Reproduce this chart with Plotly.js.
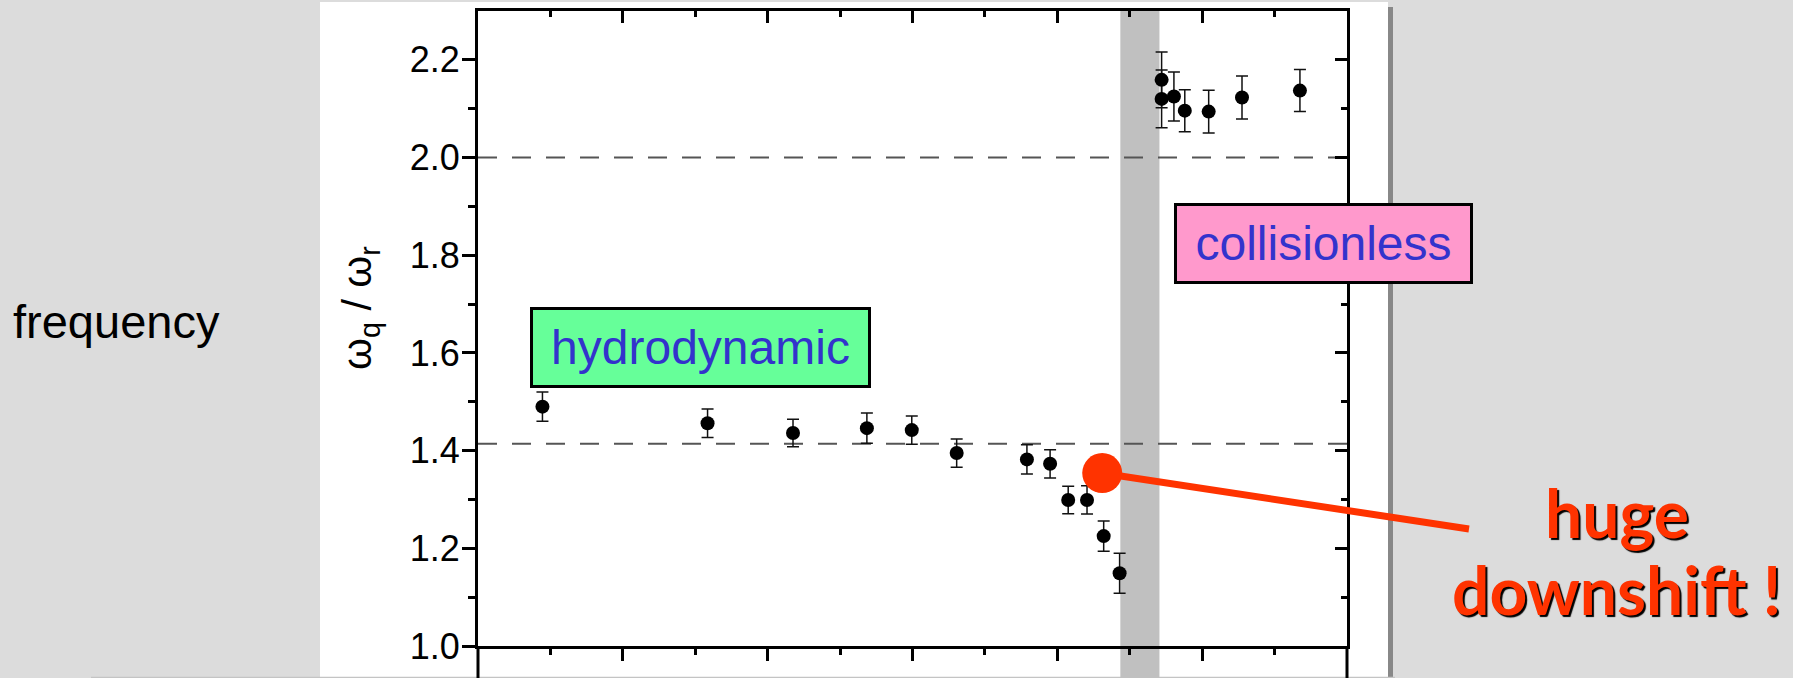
<!DOCTYPE html>
<html>
<head>
<meta charset="utf-8">
<script src="https://cdn.plot.ly/plotly-3.0.1.min.js"></script>
<style>
  html, body { margin: 0; padding: 0; background: #dcdcdc; }
  #chart { width: 1793px; height: 678px; }
</style>
</head>
<body>
<div id="chart"></div>
<script>
// ---- data (x in arbitrary tick units, axis spans 0..12) ----
const xVals = [0.89, 3.17, 4.35, 5.37, 5.99, 6.61, 7.58, 7.90, 8.15, 8.41, 8.64, 8.86,
               9.44, 9.44, 9.61, 9.76, 10.09, 10.55, 11.35];
const yVals = [1.490, 1.456, 1.436, 1.446, 1.442, 1.395, 1.382, 1.373, 1.299, 1.299, 1.225, 1.149,
               2.159, 2.120, 2.125, 2.096, 2.094, 2.123, 2.137];
const errVals = [0.030, 0.029, 0.028, 0.031, 0.029, 0.029, 0.030, 0.029, 0.028, 0.029, 0.031, 0.041,
                 0.057, 0.059, 0.050, 0.043, 0.044, 0.044, 0.043];

const yTickVals = [1.0, 1.2, 1.4, 1.6, 1.8, 2.0, 2.2];
const yTickText = ["1.0", "1.2", "1.4", "1.6", "1.8", "2.0", "2.2"];
const yMinorVals = [1.1, 1.3, 1.5, 1.7, 1.9, 2.1];
const xMajorVals = [2, 4, 6, 8, 10];
const xMinorVals = [1, 3, 5, 7, 9, 11];

const refLevels = [2.0, Math.SQRT2];     // dashed reference lines
const bandRange = [8.87, 9.41];          // grey transition band
const markerPoint = {x: 8.62, y: 1.354}; // big red dot

const xRange = [0, 12];
const yRange = [1.0, 2.3];

const AX = "Liberation Sans, Arial, sans-serif";

const traces = [
  {
    type: "scatter", mode: "markers",
    x: xVals, y: yVals,
    error_y: {type: "data", array: errVals, visible: true, color: "#111", thickness: 1.5, width: 6},
    marker: {color: "#000", size: 14},
    hoverinfo: "x+y"
  },
  { type: "scatter", mode: "markers", x: [], y: [], xaxis: "x2", yaxis: "y2", showlegend: false }
];

const axBase = {
  showline: true, linecolor: "#000", linewidth: 3,
  showgrid: false, zeroline: false, tickcolor: "#000", tickwidth: 3
};

const shapes = [
  // white slide panel
  {type: "rect", xref: "paper", yref: "paper", layer: "below",
   x0: (320 - 478) / 869, x1: (1388 - 478) / 869, y0: -0.06, y1: (646 - 2) / 635,
   fillcolor: "#ffffff", line: {width: 0}},
  // grey edge strip of the panel
  {type: "rect", xref: "paper", yref: "paper", layer: "below",
   x0: (1388 - 478) / 869, x1: (1393 - 478) / 869, y0: -0.06, y1: (646 - 7) / 635,
   fillcolor: "#888888", line: {width: 0}},
  // bottom slide line
  {type: "line", xref: "paper", yref: "paper", layer: "below",
   x0: (91 - 478) / 869, x1: (1395 - 478) / 869, y0: (646 - 677.5) / 635, y1: (646 - 677.5) / 635,
   line: {color: "#c4c4c4", width: 1.5}},
  // grey band
  {type: "rect", xref: "x", yref: "paper", layer: "below",
   x0: bandRange[0], x1: bandRange[1], y0: -0.06, y1: 1,
   fillcolor: "#c0c0c0", line: {width: 0}},
  // continuation of axes into the lower (cropped) panel
  {type: "line", xref: "paper", yref: "paper", x0: 0, x1: 0, y0: -0.06, y1: 0,
   line: {color: "#000", width: 3}},
  {type: "line", xref: "paper", yref: "paper", x0: 1, x1: 1, y0: -0.06, y1: 0,
   line: {color: "#000", width: 3}}
];

refLevels.forEach(v => shapes.push({
  type: "line", xref: "x", yref: "y", layer: "below",
  x0: xRange[0], x1: xRange[1], y0: v, y1: v,
  line: {color: "#555", width: 2, dash: "19px,15px"}
}));

// red pointer line and dot
shapes.push({type: "line", xref: "paper", yref: "paper", layer: "above",
  x0: (1101 - 478) / 869, y0: (646 - 473) / 635, x1: (1469 - 478) / 869, y1: (646 - 529) / 635,
  line: {color: "#ff3300", width: 7}});
shapes.push({type: "circle", xref: "x", yref: "y", xsizemode: "pixel", ysizemode: "pixel",
  xanchor: markerPoint.x, yanchor: markerPoint.y, x0: -20, x1: 20, y0: -20, y1: 20,
  fillcolor: "#ff3300", line: {width: 0}, layer: "above"});

const annotations = [
  {text: "hydrodynamic", xref: "x", yref: "y", x: 3.07, y: 1.612, showarrow: false,
   font: {family: AX, size: 48, color: "#3333cc"},
   bgcolor: "#66ff99", bordercolor: "#000", borderwidth: 3, borderpad: 0,
   width: 335, height: 75, align: "center", valign: "middle"},
  {text: "collisionless", xref: "x", yref: "y", x: 11.68, y: 1.825, showarrow: false,
   font: {family: AX, size: 48, color: "#3333cc"},
   bgcolor: "#ff99cc", bordercolor: "#000", borderwidth: 3, borderpad: 0,
   width: 293, height: 75, align: "center", valign: "middle"},
  {text: "frequency", xref: "paper", yref: "paper", x: (11 - 478) / 869, y: (646 - 321) / 635,
   xanchor: "left", yanchor: "middle", showarrow: false,
   font: {family: AX, size: 47, color: "#000"}},
  {text: "ω<sub>q</sub> / ω<sub>r</sub>", xref: "paper", yref: "paper",
   x: (360 - 478) / 869, y: (646 - 308) / 635, xanchor: "center", yanchor: "middle",
   textangle: -90, showarrow: false, font: {family: AX, size: 41, color: "#000"}},
  {text: "huge", xref: "paper", yref: "paper", x: (1617 - 478) / 869, y: (646 - 512) / 635,
   xanchor: "center", yanchor: "middle", showarrow: false,
   font: {family: "Lato, sans-serif", size: 66, color: "#ff3300", weight: 700,
          shadow: "2px 2px 1px #000"}},
  {text: "downshift !", xref: "paper", yref: "paper", x: (1616 - 478) / 869, y: (646 - 589) / 635,
   xanchor: "center", yanchor: "middle", showarrow: false,
   font: {family: "Lato, sans-serif", size: 66, color: "#ff3300", weight: 700,
          shadow: "2px 2px 1px #000"}}
];

const layout = {
  width: 1793, height: 678,
  margin: {l: 478, r: 446, t: 11, b: 32, pad: 0},
  paper_bgcolor: "#dcdcdc", plot_bgcolor: "rgba(0,0,0,0)",
  showlegend: false,
  font: {family: AX, color: "#000"},
  xaxis: Object.assign({}, axBase, {
    range: xRange, ticks: "outside", ticklen: 12, tickmode: "array", tickvals: xMajorVals,
    showticklabels: false,
    minor: {tickmode: "array", tickvals: xMinorVals, ticks: "outside", ticklen: 6, tickwidth: 3, tickcolor: "#000"}
  }),
  xaxis2: Object.assign({}, axBase, {
    range: xRange, overlaying: "x", side: "top", anchor: "y", ticks: "inside", ticklen: 12,
    tickmode: "array", tickvals: xMajorVals, showticklabels: false,
    minor: {tickmode: "array", tickvals: xMinorVals, ticks: "inside", ticklen: 6, tickwidth: 3, tickcolor: "#000"}
  }),
  yaxis: Object.assign({}, axBase, {
    range: yRange, ticks: "outside", ticklen: 13, tickmode: "array",
    tickvals: yTickVals, ticktext: yTickText, ticklabelstandoff: -5,
    tickfont: {family: AX, size: 36, color: "#000"},
    minor: {tickmode: "array", tickvals: yMinorVals, ticks: "outside", ticklen: 7, tickwidth: 3, tickcolor: "#000"}
  }),
  yaxis2: Object.assign({}, axBase, {
    range: yRange, overlaying: "y", side: "right", anchor: "x", ticks: "inside", ticklen: 12,
    tickmode: "array", tickvals: yTickVals, showticklabels: false,
    minor: {tickmode: "array", tickvals: yMinorVals, ticks: "inside", ticklen: 6, tickwidth: 3, tickcolor: "#000"}
  }),
  shapes: shapes,
  annotations: annotations
};

Plotly.newPlot("chart", traces, layout, {displayModeBar: false, staticPlot: true});
</script>
</body>
</html>
